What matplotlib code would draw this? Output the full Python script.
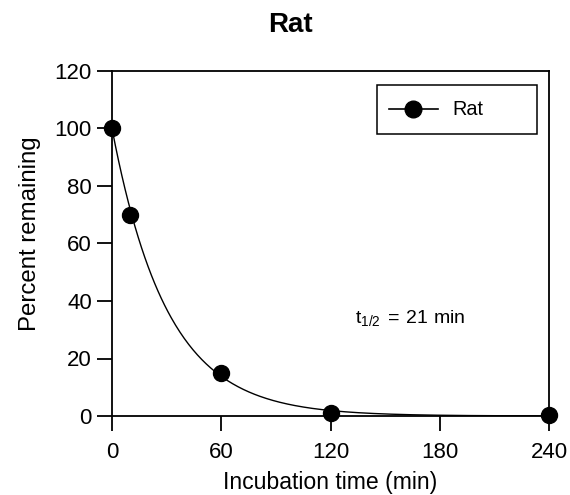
import numpy as np
import matplotlib
matplotlib.use("Agg")
import matplotlib.pyplot as plt
from matplotlib.patches import Rectangle

plt.rcParams['font.family'] = ['Liberation Sans', 'DejaVu Sans']
plt.rcParams['mathtext.fontset'] = 'custom'
plt.rcParams['mathtext.rm'] = 'Liberation Sans'

# data
time_min = [0, 10, 60, 120, 240]
percent_remaining = [100, 70, 15, 1, 0.3]
half_life = 21
x_ticks = [0, 60, 120, 180, 240]
y_ticks = [0, 20, 40, 60, 80, 100, 120]

W, H = 570, 495
L, R, T, B = 112, 549, 71, 416
AW, AH = R - L, B - T
fig = plt.figure(figsize=(5.7, 4.95), dpi=100)
ax = fig.add_axes([L / W, 1 - B / H, AW / W, AH / H])

# fitted one-phase decay from the reported half-life
t_fit = np.linspace(0, 240, 400)
y_fit = 100 * np.exp(-np.log(2) / half_life * t_fit)
ax.plot(t_fit, y_fit, color='black', lw=1.0)
ax.plot(time_min, percent_remaining, 'o', color='black', ms=11.5, clip_on=False, zorder=5)
ax.plot([], [], '-o', color='black', ms=12, lw=1.2, label='Rat')

ax.set_xlim(0, 240)
ax.set_ylim(0, 120)
ax.set_xticks(x_ticks)
ax.set_yticks(y_ticks)
ax.tick_params(direction='out', length=11, width=1.3, labelsize=16)
ax.tick_params(axis='x', pad=8)
ax.tick_params(axis='y', pad=3.5)
for s in ax.spines.values():
    s.set_linewidth(1.3)

fig.text(330 / W, 1 - 489.5 / H, 'Incubation time (min)', fontsize=16.6, ha='center',
         va='baseline')
fig.text(30 / W, 1 - 234 / H, 'Percent remaining', fontsize=17.3, ha='center', va='center',
         rotation=90)
fig.text(290 / W, 1 - 25 / H, 'Rat', fontsize=20, fontweight='bold', ha='center', va='center')

ax.text(133.5, 32.3, r'$\mathregular{t_{1/2}\,=\,21\ min}$', fontsize=14, va='baseline',
        ha='left')

leg = ax.legend(loc='center left', bbox_to_anchor=((389 - L) / AW, (B - 110) / AH),
                fontsize=14.3, frameon=False, borderpad=0, borderaxespad=0,
                handlelength=2.45, handletextpad=0.75)
for l in leg.get_lines():
    l.set_linewidth(1.2)
ax.add_patch(Rectangle(((377 - L) / AW, (B - 134) / AH), 160 / AW, 49 / AH,
                       transform=ax.transAxes, fill=False, edgecolor='black', lw=1.1,
                       zorder=6))

fig.savefig('out.png', dpi=100)
